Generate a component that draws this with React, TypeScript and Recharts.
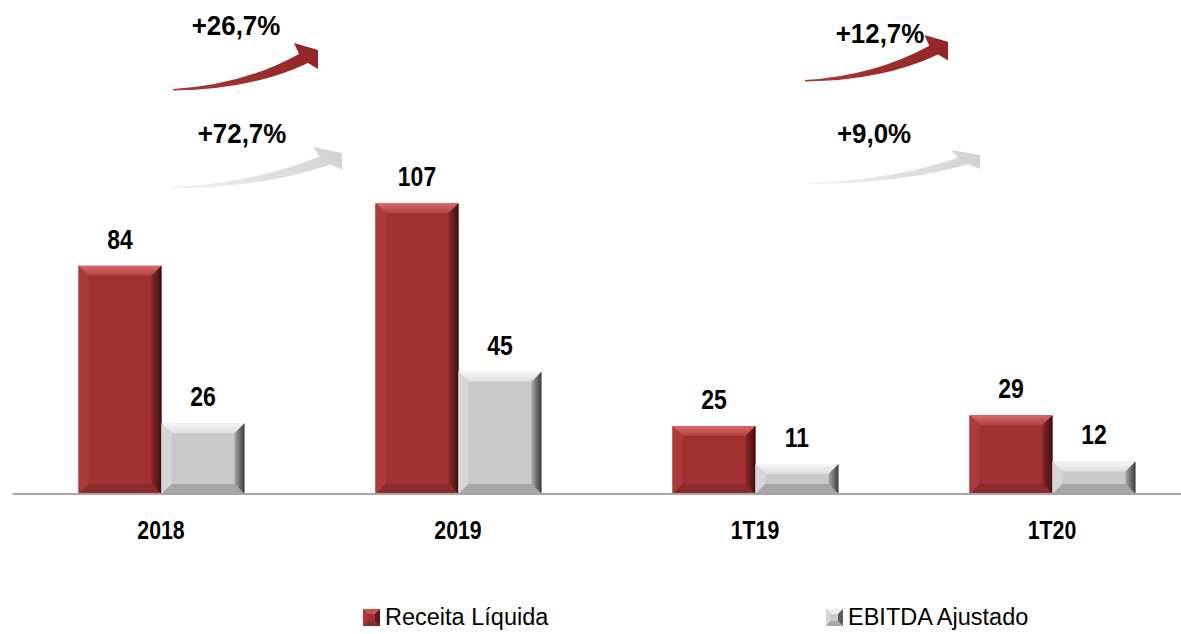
import React from 'react';
import { BarChart, Bar, XAxis, YAxis, LabelList, Customized } from 'recharts';

const categories = ['2018', '2019', '1T19', '1T20'];
const receitaLiquida = [84, 107, 25, 29];
const ebitdaAjustado = [26, 45, 11, 12];
const seriesNames = ['Receita Líquida', 'EBITDA Ajustado'];
const growthLabels = ['+26,7%', '+72,7%', '+12,7%', '+9,0%'];

const data = categories.map((c, i) => ({
  name: c,
  receita: receitaLiquida[i],
  ebitda: ebitdaAjustado[i],
}));

const FONT = '"Liberation Sans", Arial, sans-serif';
const NARROW = 0.82; // Arial Narrow look: squeeze Liberation Sans horizontally

const palettes = {
  red: { main: '#A13131', top: '#C95454', left: '#AC3A3A', right: '#5E1818', bottom: '#8A2A2A' },
  gray: { main: '#C9C9C9', top: '#EDEDED', left: '#D6D6D6', right: '#5C5C5C', bottom: '#A6A6A6' },
};

function NarrowText({ x, y, size, squeeze = NARROW, children }: any) {
  return (
    <text
      transform={`translate(${x},${y}) scale(${squeeze},1)`}
      x={0}
      y={0}
      textAnchor="middle"
      fontFamily={FONT}
      fontWeight="bold"
      fontSize={size}
      fill="#000"
    >
      {children}
    </text>
  );
}

function bevelShape(kind: 'red' | 'gray') {
  const p = palettes[kind];
  return (props: any) => {
    const { x, y, width: w, height: h } = props;
    if (!h || h <= 0) return <g />;
    const b = Math.min(10, h / 3, w / 4);
    return (
      <g>
        <rect x={x} y={y} width={w} height={h} fill={p.main} />
        <polygon points={`${x},${y} ${x + w},${y} ${x + w - b},${y + b} ${x + b},${y + b}`} fill={`url(#top-${kind})`} />
        <polygon points={`${x},${y} ${x + b},${y + b} ${x + b},${y + h - b} ${x},${y + h}`} fill={p.left} />
        <polygon points={`${x + w},${y} ${x + w},${y + h} ${x + w - b},${y + h - b} ${x + w - b},${y + b}`} fill={`url(#right-${kind})`} />
        <polygon points={`${x},${y + h} ${x + w},${y + h} ${x + w - b},${y + h - b} ${x + b},${y + h - b}`} fill={p.bottom} />
      </g>
    );
  };
}

function valueLabel(props: any) {
  const { x, y, width, value } = props;
  return <NarrowText x={x + width / 2} y={y - 17} size={28}>{value}</NarrowText>;
}

// curved arrow template, tail at (0,0), width 145, barb height 46
function arrowPath(tx: number, ty: number, w: number, h: number) {
  const sx = w / 145;
  const sy = h / 46;
  const P = (px: number, py: number) => `${(tx + px * sx).toFixed(1)},${(ty + py * sy).toFixed(1)}`;
  return [
    `M${P(0, 0)}`,
    `Q${P(70, -4)} ${P(126, -35)}`,
    `L${P(121, -46)}`,
    `L${P(145, -39)}`,
    `L${P(145, -20)}`,
    `L${P(135, -26)}`,
    `Q${P(78, 1)} ${P(0, 1.5)}`,
    'Z',
  ].join(' ');
}

const arrows = [
  { tx: 173, ty: 89, w: 145, h: 46, color: 'red', label: growthLabels[0], lx: 236, ly: 35 },
  { tx: 170, ty: 187, w: 172, h: 40, color: 'gray', label: growthLabels[1], lx: 242, ly: 143 },
  { tx: 805, ty: 80, w: 143, h: 45, color: 'red', label: growthLabels[2], lx: 880, ly: 43 },
  { tx: 808, ty: 183, w: 172, h: 33, color: 'gray', label: growthLabels[3], lx: 874, ly: 143 },
];

function Arrows() {
  return (
    <g>
      {arrows.map((a, i) => (
        <g key={i}>
          <path d={arrowPath(a.tx, a.ty, a.w, a.h)} fill={a.color === 'red' ? 'url(#arrow-red)' : 'url(#arrow-gray)'} />
          <NarrowText x={a.lx} y={a.ly} size={27} squeeze={0.96}>{a.label}</NarrowText>
        </g>
      ))}
    </g>
  );
}

function Tick(props: any) {
  const { x, payload } = props;
  return <NarrowText x={x} y={539} size={26}>{payload.value}</NarrowText>;
}

function LegendIcon({ kind }: { kind: 'red' | 'gray' }) {
  const p = palettes[kind];
  return (
    <svg width={17} height={17} style={{ display: 'block' }}>
      <rect x={0} y={0} width={17} height={17} fill={p.main} />
      <polygon points="0,0 17,0 12,5 5,5" fill={p.top} />
      <polygon points="0,0 5,5 5,12 0,17" fill={p.left} />
      <polygon points="17,0 17,17 12,12 12,5" fill={p.right} />
      <polygon points="0,17 17,17 12,12 5,12" fill={p.bottom} />
    </svg>
  );
}

function LegendItem({ kind, label, left }: { kind: 'red' | 'gray'; label: string; left: number }) {
  return (
    <div style={{ position: 'absolute', left, top: 604, display: 'flex', alignItems: 'center', fontFamily: FONT, fontSize: 23.5, color: '#000', whiteSpace: 'nowrap' }}>
      <LegendIcon kind={kind} />
      <span style={{ marginLeft: 5 }}>{label}</span>
    </div>
  );
}

export default function App() {
  return (
    <div style={{ position: 'absolute', left: 0, top: 0, width: 1181, height: 634, overflow: 'hidden', background: '#fff' }}>
      <BarChart
        width={1210}
        height={634}
        data={data}
        margin={{ top: 168, right: 9.5, left: 12.5, bottom: 0 }}
        barGap={0}
      >
        <defs>
          <linearGradient id="top-red" x1="0" y1="0" x2="0" y2="1">
            <stop offset="0" stopColor="#D86A6A" />
            <stop offset="1" stopColor="#B04040" />
          </linearGradient>
          <linearGradient id="top-gray" x1="0" y1="0" x2="0" y2="1">
            <stop offset="0" stopColor="#F7F7F7" />
            <stop offset="1" stopColor="#DDDDDD" />
          </linearGradient>
          <linearGradient id="right-red" x1="1" y1="0" x2="0" y2="0">
            <stop offset="0" stopColor="#3E0E0E" />
            <stop offset="1" stopColor="#8A2828" />
          </linearGradient>
          <linearGradient id="right-gray" x1="1" y1="0" x2="0" y2="0">
            <stop offset="0" stopColor="#3A3A3A" />
            <stop offset="1" stopColor="#A8A8A8" />
          </linearGradient>
          <linearGradient id="arrow-red" x1="0" y1="0" x2="1" y2="0">
            <stop offset="0" stopColor="#A83838" />
            <stop offset="1" stopColor="#922626" />
          </linearGradient>
          <linearGradient id="arrow-gray" x1="0" y1="0" x2="1" y2="0">
            <stop offset="0" stopColor="#F2F2F2" />
            <stop offset="1" stopColor="#D2D2D2" />
          </linearGradient>
        </defs>
        <XAxis
          dataKey="name"
          height={140}
          axisLine={{ stroke: '#A6A6A6', strokeWidth: 2 }}
          tickLine={false}
          tickSize={0}
          tick={<Tick />}
          interval={0}
        />
        <YAxis hide domain={[0, 120]} />
        <Bar dataKey="receita" name={seriesNames[0]} barSize={83} shape={bevelShape('red')} isAnimationActive={false}>
          <LabelList dataKey="receita" content={valueLabel} />
        </Bar>
        <Bar dataKey="ebitda" name={seriesNames[1]} barSize={83} shape={bevelShape('gray')} isAnimationActive={false}>
          <LabelList dataKey="ebitda" content={valueLabel} />
        </Bar>
        <Customized component={Arrows} />
      </BarChart>
      <LegendItem kind="red" label={seriesNames[0]} left={363} />
      <LegendItem kind="gray" label={seriesNames[1]} left={826} />
    </div>
  );
}
